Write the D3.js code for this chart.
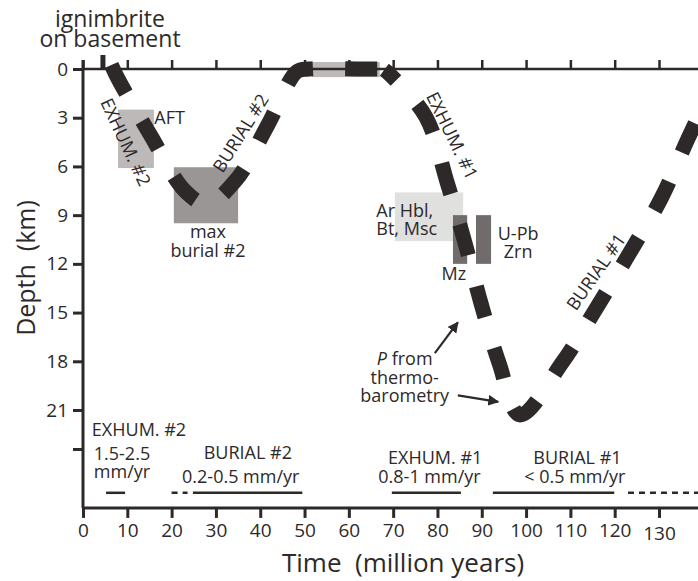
<!DOCTYPE html>
<html>
<head>
<meta charset="utf-8">
<script src="https://cdn.jsdelivr.net/npm/d3@7"></script>
<style>
  body { margin: 0; background: #fff; }
  text { font-family: "Open Sans", sans-serif; fill: #2d2929; }
</style>
</head>
<body>
<svg id="chart" width="698" height="581"></svg>
<script>
// time (Myr) ticks and depth (km) ticks
const timeTicks = [0, 10, 20, 30, 40, 50, 60, 70, 80, 90, 100, 110, 120, 130];
const depthTicks = [0, 3, 6, 9, 12, 15, 18, 21, 23.4];
const ignimbriteAge = 4.5;

// depth-time path, cycle #2 (exhum. #2 -> burial #2 -> surface)
const cycle2Time  = [6.4, 7.9, 15.3, 23, 28, 34.5, 41.8, 48.3, 51, 63, 67];
const cycle2Depth = [-0.25, 0.6, 4.1, 7.5, 8.3, 6.85, 3.4, 0.15, 0, 0, 0];
// depth-time path, cycle #1 (exhum. #1 -> burial #1)
const cycle1Time  = [68, 69.5, 77.4, 82.2, 86.0, 89.8, 93.9, 98.6, 108.1, 115.8, 123.3, 130.5, 136.6, 144];
const cycle1Depth = [0.05, 0.4, 2.96, 7.0, 10.5, 14.4, 18.1, 21.3, 18.1, 14.75, 11.36, 7.96, 4.26, 0];

// thermochronology / geobarometry constraint boxes
const boxNames = ["AFT", "maxBurial2", "surface", "ArHbl", "Mz", "UPbZrn"];
const boxT0 = [7.9, 20.5, 51.7, 70.4, 83.5, 88.7];
const boxT1 = [16.0, 35.0, 67.0, 85.8, 86.7, 92.1];
const boxD0 = [2.5, 6.05, -0.43, 7.6, 9.0, 9.0];
const boxD1 = [6.1, 9.5, 0.5, 10.6, 12.0, 12.0];

// rate bars along the bottom
const rateT0 = [5.2, 24.8, 69.7, 92.5];
const rateT1 = [9.5, 49.5, 85.3, 119.9];
const rateDashT0 = [20, 123];
const rateDashT1 = [23.6, 138.8];
const rateDepth = 26.1;

const svg = d3.select("#chart");
const ink = "#2d2929";

const x = d3.scaleLinear().domain([0, 130]).range([83, 659]);
const y = d3.scaleLinear().domain([0, 21]).range([69, 410]);
const yBottom = y(27.03);

const boxFill = {
  AFT: "#bdb9b9", maxBurial2: "#9a9696", surface: "#bdb9b9",
  ArHbl: "#e0e0df", Mz: "#716c6c", UPbZrn: "#716c6c"
};

// boxes
svg.append("g").selectAll("rect")
  .data(boxNames.map((n, i) => ({ n, t0: boxT0[i], t1: boxT1[i], d0: boxD0[i], d1: boxD1[i] })))
  .join("rect")
  .attr("x", d => x(d.t0))
  .attr("y", d => y(d.d0))
  .attr("width", d => x(d.t1) - x(d.t0))
  .attr("height", d => y(d.d1) - y(d.d0))
  .attr("fill", d => boxFill[d.n]);

// axes
const axisLeft = svg.append("g")
  .attr("transform", `translate(${x(0)},0)`)
  .call(d3.axisLeft(y).tickValues(depthTicks).tickSize(10).tickPadding(5)
    .tickFormat(d => Number.isInteger(d) ? d : ""));
axisLeft.select(".domain").remove();
axisLeft.selectAll("line").attr("stroke", ink).attr("stroke-width", 3);
axisLeft.selectAll("text").attr("font-size", 19).attr("font-family", "Open Sans").attr("fill", ink);

svg.append("line")
  .attr("x1", x(0)).attr("x2", x(0))
  .attr("y1", y(0) - 9).attr("y2", yBottom)
  .attr("stroke", ink).attr("stroke-width", 3);

const axisBottom = svg.append("g")
  .attr("transform", `translate(0,${yBottom})`)
  .call(d3.axisBottom(x).tickValues(timeTicks).tickSize(10).tickPadding(6));
axisBottom.select(".domain").remove();
axisBottom.selectAll("line").attr("stroke", ink).attr("stroke-width", 3);
axisBottom.selectAll("text").attr("font-size", 19).attr("font-family", "Open Sans").attr("fill", ink)
  .attr("dy", d => d === 130 ? "0.85em" : "0.71em");

svg.append("line")
  .attr("x1", x(0)).attr("x2", 698)
  .attr("y1", yBottom).attr("y2", yBottom)
  .attr("stroke", ink).attr("stroke-width", 3);

const axisTop = svg.append("g")
  .attr("transform", `translate(0,${y(0)})`)
  .call(d3.axisTop(x).tickValues(timeTicks).tickSize(9).tickFormat(""));
axisTop.select(".domain").remove();
axisTop.selectAll("line").attr("stroke", ink).attr("stroke-width", 2.5);

svg.append("line")
  .attr("x1", x(0)).attr("x2", 698)
  .attr("y1", y(0)).attr("y2", y(0))
  .attr("stroke", ink).attr("stroke-width", 2.5);

// ignimbrite marker
svg.append("line")
  .attr("x1", x(ignimbriteAge)).attr("x2", x(ignimbriteAge))
  .attr("y1", y(0) - 14).attr("y2", y(0))
  .attr("stroke", ink).attr("stroke-width", 5);

// depth-time paths
const line = d3.line()
  .x(d => x(d[0]))
  .y(d => y(d[1]))
  .curve(d3.curveCatmullRom.alpha(0.5));

svg.append("path")
  .datum(cycle2Time.map((t, i) => [t, cycle2Depth[i]]))
  .attr("fill", "none")
  .attr("stroke", ink)
  .attr("stroke-width", 15)
  .attr("stroke-dasharray", "32 32")
  .attr("d", line);

svg.append("path")
  .datum(cycle1Time.map((t, i) => [t, cycle1Depth[i]]))
  .attr("fill", "none")
  .attr("stroke", ink)
  .attr("stroke-width", 15)
  .attr("stroke-dasharray", "32 32")
  .attr("stroke-dashoffset", 16)
  .attr("d", line);

// rate bars
svg.append("g").selectAll("line")
  .data(rateT0.map((t, i) => [t, rateT1[i]]))
  .join("line")
  .attr("x1", d => x(d[0])).attr("x2", d => x(d[1]))
  .attr("y1", y(rateDepth)).attr("y2", y(rateDepth))
  .attr("stroke", ink).attr("stroke-width", 2.5);

svg.append("g").selectAll("line")
  .data(rateDashT0.map((t, i) => [t, rateDashT1[i]]))
  .join("line")
  .attr("x1", d => x(d[0])).attr("x2", d => x(d[1]))
  .attr("y1", y(rateDepth)).attr("y2", y(rateDepth))
  .attr("stroke", ink).attr("stroke-width", 2.5)
  .attr("stroke-dasharray", "6 5");

// text helpers
function label(t, d, lines, opts = {}) {
  const size = opts.size || 18;
  const lh = opts.lh || size;
  const txt = svg.append("text")
    .attr("x", x(t)).attr("y", y(d))
    .attr("font-size", size)
    .attr("text-anchor", opts.anchor || "middle");
  lines.forEach((l, i) => {
    txt.append("tspan").attr("x", x(t)).attr("dy", i === 0 ? 0 : lh).text(l);
  });
  return txt;
}
function rotLabel(t, d, str, angle, size = 18) {
  svg.append("text")
    .attr("transform", `translate(${x(t)},${y(d)}) rotate(${angle})`)
    .attr("text-anchor", "middle")
    .attr("dy", "0.35em")
    .attr("font-size", size)
    .text(str);
}

rotLabel(9.6, 4.5, "EXHUM. #2", 65);
rotLabel(35.6, 3.95, "BURIAL #2", -58);
rotLabel(83.3, 4.1, "EXHUM. #1", 64);
rotLabel(115.8, 12.5, "BURIAL #1", -55);

label(16.1, 3.4, ["AFT"], { anchor: "start" });
label(28.2, 10.4, ["max", "burial #2"], { lh: 19 });
label(66.2, 9.1, ["Ar Hbl,", "Bt, Msc"], { anchor: "start" });
label(98.2, 10.5, ["U-Pb", "Zrn"], { lh: 18 });
label(83.7, 13.0, ["Mz"]);

const pLabel = label(72.6, 18.2, [], { lh: 19 });
pLabel.append("tspan").attr("x", x(72.6)).attr("font-style", "italic").text("P");
pLabel.append("tspan").text(" from");
pLabel.append("tspan").attr("x", x(72.6)).attr("dy", 19).text("thermo-");
pLabel.append("tspan").attr("x", x(72.6)).attr("dy", 18).text("barometry");

// arrows
svg.append("defs").append("marker")
  .attr("id", "arrow")
  .attr("viewBox", "0 0 10 10")
  .attr("refX", 9).attr("refY", 5)
  .attr("markerWidth", 5).attr("markerHeight", 5)
  .attr("orient", "auto")
  .append("path").attr("d", "M0,0 L10,5 L0,10 z").attr("fill", ink);

const arrows = [[79.4, 17.5, 84.6, 15.6], [84.6, 20.1, 93.7, 20.5]];
svg.append("g").selectAll("line")
  .data(arrows)
  .join("line")
  .attr("x1", d => x(d[0])).attr("y1", d => y(d[1]))
  .attr("x2", d => x(d[2])).attr("y2", d => y(d[3]))
  .attr("stroke", ink).attr("stroke-width", 2.2)
  .attr("marker-end", "url(#arrow)");

// rate text
label(2.0, 22.6, ["EXHUM. #2"], { anchor: "start" });
label(8.8, 24.1, ["1.5-2.5", "mm/yr"]);
label(37.2, 24.0, ["BURIAL #2"]);
label(35.6, 25.5, ["0.2-0.5 mm/yr"]);
label(79.5, 24.3, ["EXHUM. #1"]);
label(78.2, 25.5, ["0.8-1 mm/yr"]);
label(111.6, 24.3, ["BURIAL #1"]);
label(111.0, 25.5, ["< 0.5 mm/yr"]);

// titles
svg.append("text")
  .attr("x", 110).attr("y", 27)
  .attr("text-anchor", "middle").attr("font-size", 23)
  .text("ignimbrite");
svg.append("text")
  .attr("x", 110).attr("y", 47)
  .attr("text-anchor", "middle").attr("font-size", 23)
  .text("on basement");

svg.append("text")
  .attr("x", 403).attr("y", 572)
  .attr("text-anchor", "middle").attr("font-size", 26)
  .attr("xml:space", "preserve")
  .text("Time  (million years)");

svg.append("text")
  .attr("transform", "translate(35,268) rotate(-90)")
  .attr("text-anchor", "middle").attr("font-size", 25)
  .attr("xml:space", "preserve")
  .text("Depth  (km)");
</script>
</body>
</html>
